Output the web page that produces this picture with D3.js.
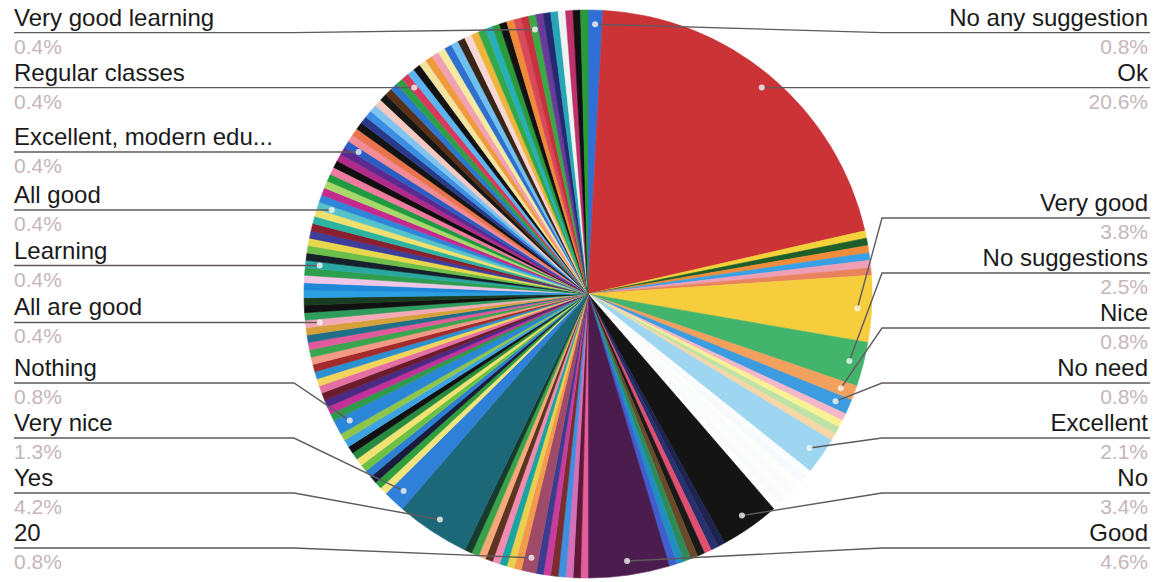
<!DOCTYPE html>
<html>
<head>
<meta charset="utf-8">
<title>Responses</title>
<script src="https://cdnjs.cloudflare.com/ajax/libs/d3/7.8.5/d3.min.js"></script>
<style>
  html, body { margin: 0; padding: 0; background: #fff; }
  svg { display: block; }
</style>
</head>
<body>
<div id="chart"></div>
<script>
// answers in the order the chart draws them (clockwise from 12 o'clock);
// '' = slice too thin to carry a readable label
var responses = [
  'No any suggestion', 'Ok', '', '', '', '', '', '',
  'Very good', 'No suggestions', 'Nice', 'No need', '', '', '', '',
  'Excellent', '', '', '', '', '', '', '',
  'No', '', '', '', '', '', '', '', '',
  'Good', '', '', '', '', '', '', '',
  '20', '', '', '', '', '', '', '', '',
  'Yes', 'Very nice', '', '', '', '', '', '', '', '', '', '',
  'Nothing',
  '', '', '', '', '', '', '', '', '', '',
  '', '', '', 'All are good', '', '', '', '', '', '',
  '', 'Learning', '', '', '', '', '', '', '', 'All good',
  '', '', '', '', '', '', '', '', 'Excellent, modern edu...', '',
  '', '', '', '', '', '', '', '', '', '',
  'Regular classes', '', '', '', '', '', '', '', '', '',
  '', '', '', '', '', '', '', '', '', 'Very good learning',
  '', '', '', '', '', '', ''
];

// number of answers per slice (238 answers in total)
var counts = [
  2, 49, 1, 1, 1, 1, 1, 1,
  9, 6, 2, 2, 1, 1, 1, 1,
  5, 1, 1, 1, 1, 1, 1, 1,
  8, 1, 1, 1, 1, 1, 1, 1, 1,
  11, 1, 1, 1, 1, 1, 1, 1,
  2, 1, 1, 1, 1, 1, 1, 1, 1,
  10, 3, 1, 1, 1, 1, 1, 1, 1, 1, 1, 1,
  2,
  1, 1, 1, 1, 1, 1, 1, 1, 1, 1,
  1, 1, 1, 1, 1, 1, 1, 1, 1, 1,
  1, 1, 1, 1, 1, 1, 1, 1, 1, 1,
  1, 1, 1, 1, 1, 1, 1, 1, 1, 1,
  1, 1, 1, 1, 1, 1, 1, 1, 1, 1,
  1, 1, 1, 1, 1, 1, 1, 1, 1, 1,
  1, 1, 1, 1, 1, 1, 1, 1, 1, 1,
  1, 1, 1, 1, 1, 1, 1
];

var sliceColors = [
  '#2f6fd6', '#cc3337', '#f3d23a', '#1d5e2a', '#f08c3a', '#3aa0e6', '#ef9fb5', '#e9835f',
  '#f6cd3c', '#43b46c', '#f2a05e', '#3d9be0', '#f6b8c8', '#faf095', '#bfe3a6', '#f9d6a6',
  '#9ed6f2', '#fbfcfd', '#f7fafc', '#fdfdf9', '#f9fbfd', '#fcfcfa', '#f8fafc', '#fdfdfd',
  '#141414', '#1d2450', '#283070', '#e0506e', '#1a1a1a', '#6a4a2a', '#2e8b57', '#1f8fbf',
  '#3f5fd0', '#4b1d4f', '#e35d98', '#5e1a35', '#d46fb8', '#3d8fe0', '#7b2d2d', '#c73c9c',
  '#3b3b8f', '#a04a6a', '#f29a4e', '#e9cf4d', '#1aa3a3', '#f28bb0', '#5d3421', '#f5a878',
  '#3aa34a', '#173b2c', '#1d6878', '#2e80d9', '#f3e47e', '#2f9f3e', '#1b1b3b', '#2c7fd2',
  '#6dc244', '#f1e272', '#268a3f', '#111111', '#3da3e3', '#8fc54a', '#2a86d6',
  '#2f9a4a', '#c2309a', '#4b2a85', '#6b1c2c', '#e46fa2', '#f2d45a', '#2c8fd0', '#a42b2b',
  '#f39a86', '#3aa44e', '#e05a9c', '#1f6f8a', '#d7a13a', '#f4a9b8', '#2e9c5c', '#111111',
  '#1a3d22', '#2d9fe3', '#1e88d8', '#f0c6e6', '#2e9d4d', '#2aa7a0', '#15202a', '#6cbf4a',
  '#e8d64c', '#3d3d9a', '#8a1f2f', '#2cb3a2', '#efe070', '#56c3c8', '#2f86d8', '#c42a8e',
  '#a8d86a', '#1f9a3f', '#f07aa0', '#0f0f0f', '#b02a8a', '#5c2a8e', '#2a5cc2', '#f28b95',
  '#e8734c', '#141414', '#293a8a', '#3b8fe3', '#7fc4ef', '#f5c8c0', '#161616', '#5a3018',
  '#2a78d0', '#2f9e47', '#d93a5c', '#5ab5f0', '#121212', '#f3e3a0', '#f09a3e', '#f2a0b4',
  '#f5eba0', '#2f6fd0', '#6fc0ee', '#3a2418', '#f7d6d6', '#f0b43a', '#32a84a', '#27b0b8',
  '#2a9a3a', '#121212', '#f08a3a', '#d84a5a', '#c8323c', '#3aa845', '#6a3a9a', '#252a70',
  '#28a6b6', '#eef2f0', '#c0306a', '#111111', '#2a9a3a'
];

(function(){
  var width = 1163, height = 582;
  var cx = 588, cy = 294, radius = 284;
  var labelGap = 55, lineTop = 33, lineBottom = 548;
  var font = "Arial, 'Liberation Sans', sans-serif";

  var data = responses.map(function(name, i){
    return {name: name, value: counts[i], idx: i};
  });
  var total = d3.sum(counts);
  var pct = d3.format('.1%');

  var color = d3.scaleOrdinal().domain(d3.range(data.length)).range(sliceColors);

  var svg = d3.select('#chart').append('svg')
      .attr('width', width).attr('height', height);

  var pie = d3.pie().sort(null).value(function(d){ return d.value; });
  var arc = d3.arc().innerRadius(0).outerRadius(radius);
  var slices = pie(data);

  svg.append('g')
      .attr('transform', 'translate(' + cx + ',' + cy + ')')
    .selectAll('path').data(slices).enter().append('path')
      .attr('d', arc)
      .style('fill', function(d){ return color(d.data.idx); })
      .style('stroke', function(d){ return color(d.data.idx); })
      .style('stroke-width', 0.6);

  // anchor of every labelled slice, a bit inside the rim
  var labels = slices.filter(function(d){ return d.data.name !== ''; }).map(function(d){
    var mid = (d.startAngle + d.endAngle) / 2;
    var r = radius * 0.95;
    return {
      name: d.data.name,
      text: pct(d.data.value / total),
      ax: cx + r * Math.sin(mid),
      ay: cy - r * Math.cos(mid),
      right: Math.sin(mid) >= 0
    };
  });

  function spread(items){
    items.sort(function(a, b){ return a.ay - b.ay; });
    items.forEach(function(d){ d.ly = Math.max(lineTop, Math.min(lineBottom, d.ay)); });
    for (var i = items.length - 2; i >= 0; i--)
      items[i].ly = Math.min(items[i].ly, items[i + 1].ly - labelGap);
    for (var j = 1; j < items.length; j++)
      items[j].ly = Math.max(items[j].ly, items[j - 1].ly + labelGap);
  }
  spread(labels.filter(function(d){ return d.right; }));
  spread(labels.filter(function(d){ return !d.right; }));

  var g = svg.append('g');

  g.selectAll('path.leader').data(labels).enter().append('path')
      .attr('class', 'leader')
      .attr('d', function(d){
        var edge = d.right ? 1150 : 14;
        var bend = d.right ? cx + radius + 10 : cx - radius - 10;
        return 'M' + edge + ',' + d.ly + 'L' + bend + ',' + d.ly + 'L' + d.ax + ',' + d.ay;
      })
      .style('fill', 'none')
      .style('stroke', '#5f5a5c')
      .style('stroke-width', 1.4);

  g.selectAll('circle').data(labels).enter().append('circle')
      .attr('cx', function(d){ return d.ax; })
      .attr('cy', function(d){ return d.ay; })
      .attr('r', 3)
      .style('fill', '#fff')
      .style('opacity', 0.75);

  g.selectAll('text.name').data(labels).enter().append('text')
      .attr('class', 'name')
      .attr('x', function(d){ return d.right ? 1148 : 14; })
      .attr('y', function(d){ return d.ly - 7; })
      .attr('text-anchor', function(d){ return d.right ? 'end' : 'start'; })
      .style('font-family', font)
      .style('font-size', '24px')
      .style('fill', '#1a1a1a')
      .text(function(d){ return d.name; });

  g.selectAll('text.pct').data(labels).enter().append('text')
      .attr('class', 'pct')
      .attr('x', function(d){ return d.right ? 1148 : 14; })
      .attr('y', function(d){ return d.ly + 21; })
      .attr('text-anchor', function(d){ return d.right ? 'end' : 'start'; })
      .style('font-family', font)
      .style('font-size', '21px')
      .style('fill', '#c6b5ba')
      .text(function(d){ return d.text; });
})();
</script>
</body>
</html>
